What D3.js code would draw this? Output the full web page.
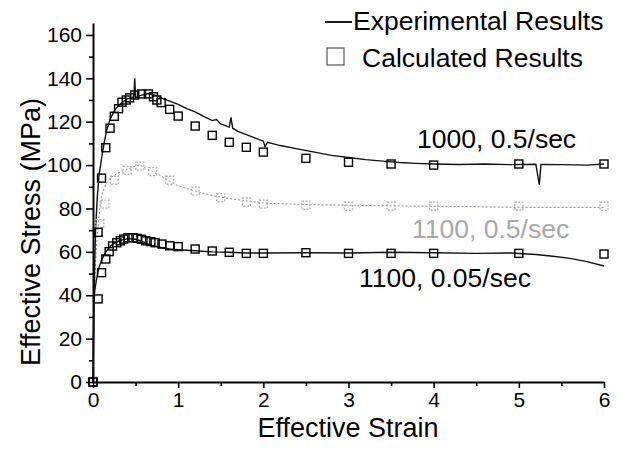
<!DOCTYPE html>
<html>
<head>
<meta charset="utf-8">
<script src="https://cdn.jsdelivr.net/npm/d3@7"></script>
<style>
  body { margin: 0; background: #fff; }
  text { font-family: "Liberation Sans", Arial, sans-serif; }
</style>
</head>
<body>
<div id="chart"></div>
<script>
// experimental curves, [strain, stress MPa]
var exp1000 = [[0,0],[0.01,30],[0.02,55],[0.03,70],[0.05,85],[0.07,95],[0.1,103],[0.13,110],[0.16,116],[0.2,121],
  [0.25,125],[0.3,127.5],[0.35,129],[0.4,130.5],[0.45,131],[0.48,131.5],[0.49,140],[0.5,131],[0.55,132],[0.6,132.5],
  [0.65,133],[0.7,132.5],[0.75,132],[0.8,131],[0.9,129.5],[1.0,128],[1.1,126],[1.2,124.5],[1.3,122.5],[1.4,120.5],
  [1.45,121],[1.5,119],[1.6,117.5],[1.62,122],[1.64,117],[1.7,115.5],[1.8,114],[1.9,112.5],[2.0,111],[2.02,108.5],
  [2.05,110.5],[2.2,109],[2.4,107.5],[2.6,106],[2.8,104.5],[3.0,103.5],[3.2,102.5],[3.4,101.8],[3.6,101.2],[3.8,100.8],
  [4.0,100.5],[4.3,100.3],[4.6,100.5],[4.9,100.2],[5.2,100.4],[5.24,91],[5.26,100.3],[5.5,100.2],[5.8,100],[6.0,100.5]];

var exp1100slow = [[0,0],[0.005,20],[0.01,35],[0.02,42],[0.04,47],[0.06,51],[0.08,54],[0.1,56],[0.13,58.5],[0.16,60.5],
  [0.2,62.5],[0.25,64],[0.3,65],[0.35,65.5],[0.4,66],[0.45,66],[0.5,65.8],[0.55,65.2],[0.6,64.5],[0.65,63.5],
  [0.7,62.8],[0.75,62.5],[0.8,62],[0.9,61.3],[1.0,61],[1.2,60.5],[1.4,60],[1.6,59.8],[1.8,59.5],[2.0,59.5],
  [2.5,59.6],[3.0,59.5],[3.5,59.8],[4.0,59.6],[4.5,59.3],[4.9,59.5],[5.2,58.8],[5.4,58],[5.6,57],[5.8,55.5],[6.0,53.5]];

var exp1100fast = [[0,0],[0.01,30],[0.03,55],[0.05,68],[0.08,80],[0.1,86],[0.15,91],[0.2,94],[0.3,96.5],[0.4,98],
  [0.5,99.5],[0.55,100],[0.6,99],[0.7,97],[0.8,95],[0.9,92.5],[1.0,90.5],[1.2,88],[1.4,86],[1.6,84.5],[1.8,83.5],
  [2.0,82.5],[2.5,81.8],[3.0,81.5],[3.5,81.2],[4.0,81],[4.5,80.8],[5.0,80.5],[5.5,80.5],[6.0,80.5]];

// calculated points
var calc1000 = [[0,0],[0.06,69],[0.1,94],[0.15,108],[0.2,117],[0.25,122.5],[0.3,126],[0.34,129],[0.39,130],[0.43,131],
  [0.49,132.3],[0.57,132.8],[0.65,132.8],[0.71,131.5],[0.75,130],[0.8,128.8],[0.9,125.7],[1.0,122.6],[1.2,118],
  [1.4,113.7],[1.6,110.5],[1.8,108.2],[2.0,106],[2.5,103.1],[3.0,101.3],[3.5,100.5],[4.0,100],[5.0,100.5],[6.0,100.5]];

var calc1100slow = [[0,0],[0.06,38.3],[0.1,50.4],[0.15,56.7],[0.19,60.1],[0.23,62.7],[0.28,64.2],[0.32,65.1],[0.36,65.9],
  [0.41,66.5],[0.47,66.5],[0.52,66.2],[0.57,65.8],[0.62,65.1],[0.68,64.7],[0.73,64.2],[0.81,63.6],[0.9,62.8],[1.0,62.4],
  [1.2,61.3],[1.4,60.4],[1.6,59.8],[1.8,59.3],[2.0,59.3],[2.5,59.6],[3.0,59.3],[3.5,59.3],[4.0,59.3],[5.0,59.3],[6.0,59]];

var calc1100fast = [[0.08,73],[0.14,82],[0.25,93],[0.4,97.5],[0.55,99.5],[0.7,97],[0.9,93],[1.2,88],[1.5,85],
  [1.8,83],[2.0,82],[2.5,81.5],[3.0,81],[3.5,81],[4.0,81],[5.0,81],[6.0,81]];

var xTicks = [0,1,2,3,4,5,6];
var yTicks = [0,20,40,60,80,100,120,140,160];

var W = 622, H = 450;
var svg = d3.select("#chart").append("svg").attr("width", W).attr("height", H);

var x = d3.scaleLinear().domain([0, 6]).range([93, 604]);
var y = d3.scaleLinear().domain([0, 165.5]).range([382, 23]);

// axes
svg.append("g").attr("transform", "translate(0,382)")
  .call(d3.axisBottom(x).tickValues(xTicks).tickFormat(d3.format("d")).tickSize(6).tickPadding(4).tickSizeOuter(0));
svg.append("g").attr("transform", "translate(0,382)")
  .call(d3.axisBottom(x).tickValues(d3.range(0.5, 6, 1)).tickFormat("").tickSize(4).tickSizeOuter(0))
  .select(".domain").remove();
svg.append("g").attr("transform", "translate(93,0)")
  .call(d3.axisLeft(y).tickValues(yTicks).tickSize(7).tickPadding(4).tickSizeOuter(0));
svg.append("g").attr("transform", "translate(93,0)")
  .call(d3.axisLeft(y).tickValues(d3.range(10, 170, 20)).tickFormat("").tickSize(4).tickSizeOuter(0))
  .select(".domain").remove();
svg.selectAll(".domain").attr("stroke", "#000").attr("stroke-width", 2);
svg.selectAll(".tick line").attr("stroke", "#000").attr("stroke-width", 1.6);
svg.selectAll(".tick text").attr("font-size", 21).attr("fill", "#000")
  .style("font-family", "'Liberation Sans', Arial, sans-serif");

// axis titles
svg.append("text").attr("x", 348).attr("y", 437).attr("text-anchor", "middle")
  .attr("font-size", 27).text("Effective Strain");
svg.append("text").attr("transform", "translate(40,232) rotate(-90)").attr("text-anchor", "middle")
  .attr("font-size", 27).text("Effective Stress (MPa)");

var line = d3.line().x(d => x(d[0])).y(d => y(d[1]));

svg.append("path").datum(exp1100fast).attr("d", line).attr("fill", "none")
  .attr("stroke", "#8a8a8a").attr("stroke-width", 1).attr("stroke-dasharray", "2,2");
svg.append("path").datum(exp1000).attr("d", line).attr("fill", "none")
  .attr("stroke", "#111").attr("stroke-width", 1.4);
svg.append("path").datum(exp1100slow).attr("d", line).attr("fill", "none")
  .attr("stroke", "#111").attr("stroke-width", 1.4);

var sq = 8;
function squares(data, color, dash) {
  svg.append("g").selectAll("rect").data(data).join("rect")
    .attr("x", d => x(d[0]) - sq / 2).attr("y", d => y(d[1]) - sq / 2)
    .attr("width", sq).attr("height", sq)
    .attr("fill", "none").attr("stroke", color).attr("stroke-width", 1.4)
    .attr("stroke-dasharray", dash);
}
squares(calc1100fast, "#b5b5b5", "2,1.5");
squares(calc1000, "#000", null);
squares(calc1100slow, "#000", null);

// curve labels
svg.append("text").attr("x", 417).attr("y", 148).attr("font-size", 26.5).text("1000, 0.5/sec");
svg.append("text").attr("x", 412).attr("y", 238).attr("font-size", 26.5).attr("fill", "#a8a8a8").text("1100, 0.5/sec");
svg.append("text").attr("x", 359).attr("y", 287).attr("font-size", 26.5).text("1100, 0.05/sec");

// legend
svg.append("line").attr("x1", 325).attr("x2", 352).attr("y1", 22).attr("y2", 22)
  .attr("stroke", "#000").attr("stroke-width", 1.8);
svg.append("text").attr("x", 353).attr("y", 30).attr("font-size", 26.5).text("Experimental Results");
svg.append("rect").attr("x", 327).attr("y", 48).attr("width", 17).attr("height", 17)
  .attr("fill", "none").attr("stroke", "#555").attr("stroke-width", 1.2);
svg.append("text").attr("x", 362).attr("y", 67).attr("font-size", 26.5).text("Calculated Results");
</script>
</body>
</html>
